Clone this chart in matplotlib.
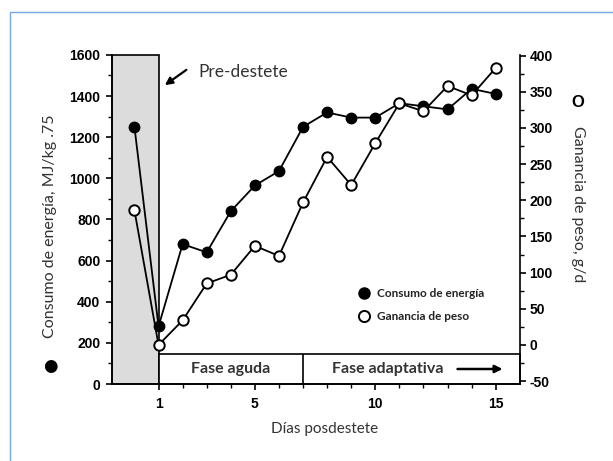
import matplotlib
matplotlib.use("Agg")
import numpy as np
import matplotlib.pyplot as plt
from matplotlib.patches import Rectangle
from matplotlib.lines import Line2D
from matplotlib.ticker import MultipleLocator, FixedLocator

# datos
dias = [0, 1, 2, 3, 4, 5, 6, 7, 8, 9, 10, 11, 12, 13, 14, 15]
consumo = [1250, 280, 680, 640, 840, 965, 1035, 1250, 1320, 1295, 1295, 1365, 1350, 1335, 1435, 1410]
ganancia = [186, 0, 34, 85, 97, 137, 123, 197, 260, 221, 279, 334, 323, 358, 345, 383]

xticks = [1, 5, 10, 15]
xminor = [2, 3, 4, 6, 7, 8, 9, 11, 12, 13, 14]
fase_inicio, fase_div, fase_fin = 1, 7, 16
fase_alto = 146

plt.rcParams['font.family'] = 'Liberation Sans'
plt.rcParams['font.weight'] = 'bold'
plt.rcParams['axes.unicode_minus'] = False
txt = dict(family='Lato', color='#333333')

fig = plt.figure(figsize=(6.13, 4.61), dpi=100)
ax = fig.add_axes([0.182, 0.167, 0.666, 0.714])
ax2 = ax.twinx()

ax.set_xlim(-0.95, 16)
ax.set_ylim(0, 1600)
ax2.set_ylim(-54, 401)

# zona pre-destete sombreada
ax.add_patch(Rectangle((-0.95, 0), fase_inicio + 0.95, 1600, facecolor='#dcdcdc',
                       edgecolor='black', lw=1.2, zorder=1, clip_on=False))
# caja de fases
ax.add_patch(Rectangle((fase_inicio, 0), fase_fin - fase_inicio, fase_alto,
                       facecolor='white', edgecolor='black', lw=1.2, zorder=2, clip_on=False))
ax.vlines(fase_div, 0, fase_alto, color='black', lw=1.2, zorder=2)

ax.plot(dias, consumo, '-o', color='black', lw=1.3, ms=7.5, mfc='black', mec='black',
        zorder=3, clip_on=False)
ax2.plot(dias, ganancia, '-o', color='black', lw=1.3, ms=7.5, mfc='white', mec='black',
         mew=1.4, zorder=3, clip_on=False)

for s in ['top', 'right']:
    ax.spines[s].set_visible(False)
for s in ['top', 'left', 'bottom']:
    ax2.spines[s].set_visible(False)
for s in ax.spines.values():
    s.set_linewidth(1.2)
ax2.spines['right'].set_linewidth(1.2)

ax.set_xticks(xticks)
ax.xaxis.set_minor_locator(FixedLocator(xminor))
ax.set_yticks(np.arange(0, 1601, 200))
ax.yaxis.set_minor_locator(MultipleLocator(100))
ax2.set_yticks(np.arange(-50, 401, 50))
ax2.yaxis.set_minor_locator(MultipleLocator(25))

ax.tick_params(axis='both', which='major', direction='out', length=4.5, width=1.2,
               labelsize=10)
ax.tick_params(axis='both', which='minor', direction='out', length=3, width=1)
ax.tick_params(axis='x', pad=5)
ax.tick_params(axis='y', pad=3.5)
ax2.tick_params(axis='y', which='major', direction='out', length=4.5, width=1.2,
                labelsize=10, pad=2.5)
ax2.tick_params(axis='y', which='minor', direction='out', length=3, width=1)

# textos de fases
ax.text(4, fase_alto / 2, "Fase aguda", ha='center', va='center', fontsize=11.5,
        fontweight='bold', zorder=4, **txt)
ax.text(8.2, fase_alto / 2, "Fase adaptativa", ha='left', va='center', fontsize=11.5,
        fontweight='bold', zorder=4, **txt)
ax.annotate("", xy=(15.4, fase_alto / 2), xytext=(13.3, fase_alto / 2),
            arrowprops=dict(arrowstyle='-|>', color='black', lw=1.8, mutation_scale=11),
            zorder=4)

ax.annotate("", xy=(1.17, 1445), xytext=(2.25, 1535),
            arrowprops=dict(arrowstyle='-|>', color='black', lw=1.6, mutation_scale=11))
ax.text(2.66, 1515, "Pre-destete", ha='left', va='center', fontsize=12.5,
        fontweight='normal', **txt)

handles = [Line2D([], [], ls='', marker='o', ms=8, mfc='black', mec='black'),
           Line2D([], [], ls='', marker='o', ms=8, mfc='white', mec='black', mew=1.4)]
leg = ax.legend(handles, ["Consumo de energía", "Ganancia de peso"], loc='center left',
                bbox_to_anchor=(0.603, 0.239), frameon=False, borderpad=0,
                borderaxespad=0, handlelength=1.0, handletextpad=0.6, labelspacing=1.0,
                prop=dict(family='Lato', weight='bold', size=8.5))
for t in leg.get_texts():
    t.set_color('#222222')

fig.text(0.530, 0.0694, "Días posdestete", ha='center', va='center', fontsize=11,
         fontweight='normal', **txt)
fig.text(50 / 613, 1 - 226 / 461, "Consumo de energía, MJ/kg .75", rotation=90,
         ha='center', va='center', fontsize=11.5, fontweight='normal', **txt)
fig.text(50 / 613, 1 - 366 / 461, "●", ha='center', va='center', fontsize=12,
         family='DejaVu Sans', color='black')
fig.text(578 / 613, 1 - 204 / 461, "Ganancia de peso, g/d", rotation=270,
         ha='center', va='center', fontsize=11.5, fontweight='normal', **txt)
fig.text(578 / 613, 1 - 102 / 461, "O", ha='center', va='center', fontsize=12,
         fontweight='bold', color='black')

# marco azul de la imagen
fig.add_artist(Line2D([10 / 613, 10 / 613, 1], [0, 1 - 12 / 461, 1 - 12 / 461],
                      transform=fig.transFigure, color='#7aa6e6', lw=1))

fig.savefig("out.png", dpi=100)
